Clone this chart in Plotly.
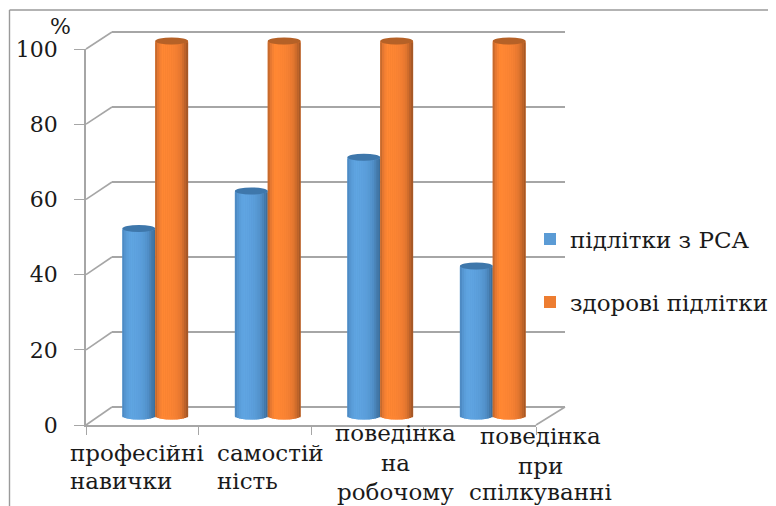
import math
import plotly.graph_objects as go

category_lines = [["професійні", "навички"], ["самостій", "ність"], ["поведінка", "на", "робочому"], ["поведінка", "при", "спілкуванні"]]
series_names = ["підлітки з РСА", "здорові підлітки"]
values_rsa = [50, 60, 69, 40]
values_healthy = [100, 100, 100, 100]
y_ticks = [0, 20, 40, 60, 80, 100]

PAGE = 8  # default page margin around the figure
W, H = 776 - PAGE, 506 - PAGE
FONT = "DejaVu Serif"
GRID = "#a6a6a6"
TEXT = "#1a1a1a"

# gradient stops across a cylinder (left to right)
blue_stops = ["#4a85bd", "#5697d2", "#5ea3e0", "#5fa5e2", "#5ea3e0", "#5ca0dd", "#5a9dd9", "#5596d0", "#4f8cc5", "#4479aa", "#386a97"]
orange_stops = ["#b8622a", "#e87a32", "#ff8733", "#ff8733", "#fd8533", "#fb8433", "#f68133", "#ee7c31", "#df742f", "#bf6329", "#9a5324"]
blue_cap = "#3e77ab"
orange_cap = "#b56127"
legend_colors = ["#5b9bd5", "#ed7d31"]
CAP = 0.95  # half height of the elliptical cap, in axis units
BAR = 0.292  # cylinder width, in category units
STRIPS = 16


def fx(p):
    return (p - PAGE) / W


def fy(p):
    return 1 - (p - PAGE) / H


def xdom(a, b):
    return [fx(a), fx(b)]


def ydom(top, bottom):
    return [fy(bottom), fy(top)]


def shade(stops, u):
    """Colour at position u (0..1) along a list of gradient stops."""
    p = u * (len(stops) - 1)
    i = min(int(p), len(stops) - 2)
    f = p - i
    a = [int(stops[i][j:j + 2], 16) for j in (1, 3, 5)]
    b = [int(stops[i + 1][j:j + 2], 16) for j in (1, 3, 5)]
    return "rgb(%d,%d,%d)" % tuple(round(x + (y - x) * f) for x, y in zip(a, b))


fig = go.Figure()
idx = list(range(len(category_lines)))
shapes = []

for s, (vals, stops, cap, col, name) in enumerate(zip(
        [values_rsa, values_healthy], [blue_stops, orange_stops], [blue_cap, orange_cap],
        legend_colors, series_names)):
    left = -BAR if s == 0 else 0.0
    fig.add_trace(go.Bar(x=idx, y=vals, width=BAR, offset=left, name=name,
                         marker=dict(color=col, line=dict(width=0)),
                         xaxis="x3", yaxis="y3", showlegend=True,
                         legend="legend" if s == 0 else "legend2"))
    for k in range(STRIPS):
        u = (k + 0.5) / STRIPS
        t = u * 2 - 1
        dip = CAP * math.sqrt(1 - t * t)
        fig.add_trace(go.Bar(x=idx, y=vals, base=[-dip] * len(vals), width=BAR / STRIPS,
                             offset=left + BAR * k / STRIPS,
                             marker=dict(color=shade(stops, u), line=dict(width=0)),
                             xaxis="x3", yaxis="y3", showlegend=False, hoverinfo="skip"))
    for i, v in zip(idx, vals):
        shapes.append(dict(type="circle", xref="x3", yref="y3", layer="below",
                           x0=i + left, x1=i + left + BAR, y0=-CAP, y1=CAP,
                           fillcolor=shade(stops, 0.5), line=dict(width=0)))
        shapes.append(dict(type="circle", xref="x3", yref="y3", layer="above",
                           x0=i + left, x1=i + left + BAR, y0=v - CAP, y1=v + CAP,
                           fillcolor=cap, line=dict(width=0)))


def px_line(x0, y0, x1, y1, w=1.6, color=GRID):
    return dict(type="line", xref="paper", yref="paper", x0=fx(x0), x1=fx(x1),
                y0=fy(y0), y1=fy(y1), line=dict(color=color, width=w))


FRONT_X, BACK_X, FRONT_END, BACK_END = 86, 112, 536, 565
FRONT_0, FRONT_100, BACK_0, BACK_100 = 425, 49, 407, 32
for v in y_ticks:
    f = FRONT_0 + (FRONT_100 - FRONT_0) * v / 100
    b = BACK_0 + (BACK_100 - BACK_0) * v / 100
    shapes.append(px_line(FRONT_X, f, BACK_X, b))
shapes.append(px_line(FRONT_END, FRONT_0, BACK_END, BACK_0))
# outer chart frame
shapes.append(px_line(9.5, 10, 9.5, 506, 1.4, "#9a9a9a"))
shapes.append(px_line(9.5, 10, 776, 10, 1.4, "#9a9a9a"))

annotations = []
label_x = [(68, "left"), (215, "left"), (395, "center"), (540, "center")]
label_mid_y = [[453, 481], [453, 481], [433, 463, 492], [436, 466, 492]]
for lines, (x, anchor), ys in zip(category_lines, label_x, label_mid_y):
    for line, y in zip(lines, ys):
        annotations.append(dict(text=line, xref="paper", yref="paper", x=fx(x), y=fy(y),
                                xanchor=anchor, yanchor="middle", showarrow=False,
                                font=dict(family=FONT, size=23, color=TEXT)))
annotations.append(dict(text="%", xref="paper", yref="paper", x=fx(60), y=fy(26),
                        xanchor="center", yanchor="middle", showarrow=False,
                        font=dict(family=FONT, size=22, color=TEXT)))

# value ranges run a little past 0 and 100 so the round caps and the end grid lines are kept
PAD = 3
U = (416 - 41) / 100
BU = (BACK_0 - BACK_100) / 100

fig.update_layout(
    width=W, height=H, margin=dict(l=0, r=0, t=0, b=0, autoexpand=False), autosize=False,
    paper_bgcolor="white", plot_bgcolor="rgba(0,0,0,0)", barmode="overlay",
    shapes=shapes, annotations=annotations,
    font=dict(family=FONT, color=TEXT),
    legend=dict(x=fx(530), y=fy(239), xanchor="left", yanchor="middle",
                font=dict(family=FONT, size=23, color=TEXT), bgcolor="rgba(0,0,0,0)"),
    legend2=dict(x=fx(530), y=fy(302), xanchor="left", yanchor="middle",
                 font=dict(family=FONT, size=23, color=TEXT), bgcolor="rgba(0,0,0,0)"),
    # back wall
    xaxis=dict(domain=xdom(BACK_X, BACK_END), range=[0, 1], visible=False, anchor="y"),
    yaxis=dict(domain=ydom(BACK_100 - PAD * BU, BACK_0 + PAD * BU), range=[-PAD, 100 + PAD], tickvals=y_ticks,
               showgrid=True, gridcolor=GRID, gridwidth=1.6, showticklabels=False, ticks="", zeroline=False,
               showline=False, anchor="x"),
    # front plane: value axis and floor edge
    xaxis2=dict(domain=xdom(FRONT_X, FRONT_END), range=[-0.5, 3.5], tickvals=[-0.5, 0.5, 1.5, 2.5, 3.5],
                showticklabels=False, ticks="outside", ticklen=8, tickcolor=GRID, tickwidth=1.4,
                showline=True, linecolor=GRID, linewidth=1.6, showgrid=False, zeroline=False, anchor="y2"),
    yaxis2=dict(domain=ydom(FRONT_100, FRONT_0), range=[0, 100], tickvals=y_ticks, ticks="outside",
                ticklen=10, tickcolor=GRID, tickwidth=1.4, showline=True, linecolor=GRID, linewidth=1.6,
                showgrid=False, zeroline=False, anchor="x2", ticklabelstandoff=12,
                tickfont=dict(family=FONT, size=22, color=TEXT)),
    # mid-depth plane holding the cylinders
    xaxis3=dict(domain=xdom(99, 549), range=[-0.5, 3.5], visible=False, anchor="y3", type="linear"),
    yaxis3=dict(domain=ydom(41 - PAD * U, 416 + PAD * U), range=[-PAD, 100 + PAD], visible=False, anchor="x3"),
)

# empty traces keep the wall and front axes on the page
fig.add_trace(go.Scatter(x=[None], y=[None], xaxis="x", yaxis="y", showlegend=False, hoverinfo="skip"))
fig.add_trace(go.Scatter(x=[None], y=[None], xaxis="x2", yaxis="y2", showlegend=False, hoverinfo="skip"))

fig.write_html("out.html")
